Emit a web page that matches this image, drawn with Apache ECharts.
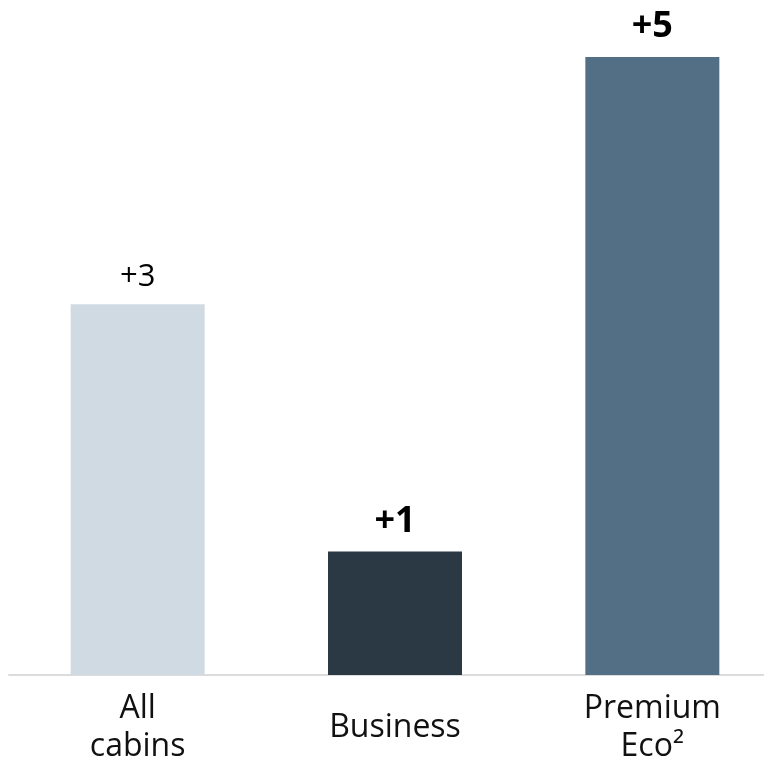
<!DOCTYPE html>
<html lang="en">
<head>
  <meta charset="UTF-8">
  <title>Cabins</title>
  <style>
    html,body{margin:0;padding:0;background:#fff;}
    #main{width:764px;height:760px;}
  </style>
</head>
<body>
  <div id="main"></div>
  <script src="https://cdn.jsdelivr.net/npm/echarts@6/dist/echarts.min.js"></script>
  <script>
    const categories=['All\ncabins','Business','Premium\nEco²'];
    const values=[3,1,5];
    const colors=['#D0DAE2','#2B3945','#536F86'];
    const bold=[false,true,true];

    const chart=echarts.init(document.querySelector('#main'));
    const option={
      animation:false,
      grid:{left:9,width:772,top:57,bottom:85,containLabel:false,outerBoundsMode:'none'},
      xAxis:{
        type:'category',
        data:categories,
        axisLine:{lineStyle:{color:'#DCDCDC',width:2}},
        axisTick:{show:false},
        axisLabel:{
          color:'#111',
          fontSize:32,
          fontFamily:'Open Sans',
          lineHeight:38,
          verticalAlign:'middle',
          margin:53
        }
      },
      yAxis:{
        type:'value',
        min:0,
        max:5,
        show:false,
        splitLine:{show:false}
      },
      series:[{
        type:'bar',
        barWidth:134,
        data:values.map((v,i)=>({
          value:v,
          itemStyle:{color:colors[i]},
          label:{
            show:true,
            position:'top',
            distance:12,
            formatter:'+'+v,
            color:'#000',
            fontFamily:'Open Sans',
            fontSize:bold[i]?36:31,
            fontWeight:bold[i]?'bold':'normal'
          }
        }))
      }]
    };
    chart.setOption(option);
  </script>
</body>
</html>
